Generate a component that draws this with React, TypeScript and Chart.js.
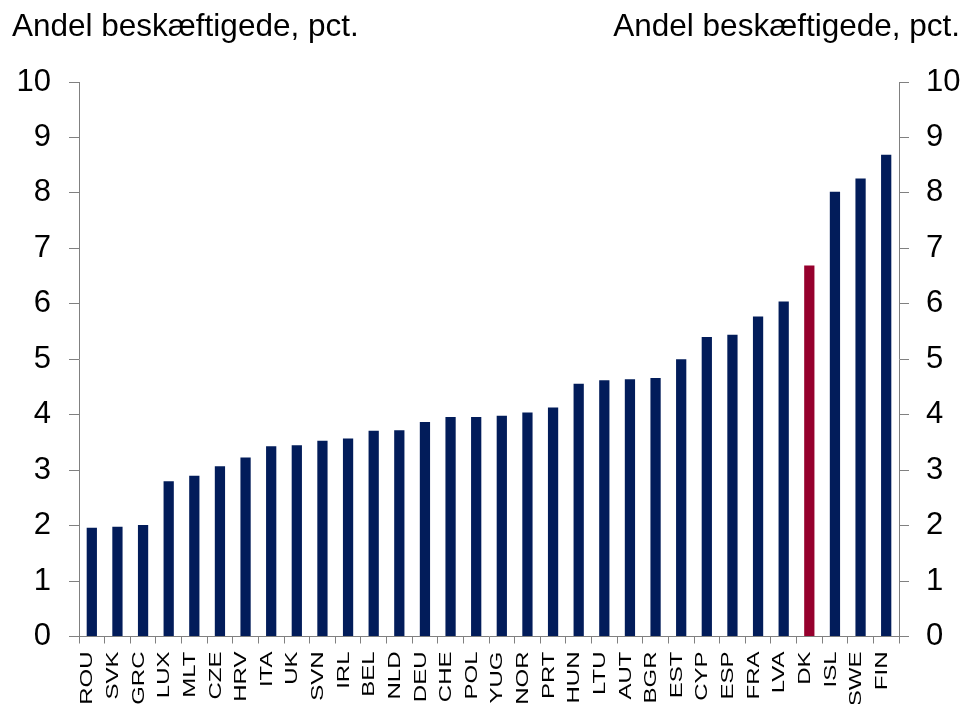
import React, { useEffect, useRef } from "react";
import { Chart, registerables } from "chart.js";

Chart.register(...registerables);

const categories = [
  "ROU", "SVK", "GRC", "LUX", "MLT", "CZE", "HRV", "ITA", "UK", "SVN", "IRL",
  "BEL", "NLD", "DEU", "CHE", "POL", "YUG", "NOR", "PRT", "HUN", "LTU", "AUT",
  "BGR", "EST", "CYP", "ESP", "FRA", "LVA", "DK", "ISL", "SWE", "FIN",
];
const values = [
  1.96, 1.98, 2.01, 2.8, 2.9, 3.07, 3.23, 3.43, 3.45, 3.53, 3.57,
  3.71, 3.72, 3.87, 3.96, 3.96, 3.98, 4.04, 4.13, 4.56, 4.62, 4.64,
  4.66, 5.0, 5.4, 5.44, 5.77, 6.04, 6.69, 8.02, 8.26, 8.69,
];
const highlighted = ["DK"];
const yTicks = [0, 1, 2, 3, 4, 5, 6, 7, 8, 9, 10];
const axisTitle = "Andel beskæftigede, pct.";

const NAVY = "#021c5a";
const RED = "#96002d";
const AXIS = "#808080";
const FONT = "'Liberation Sans', Arial, sans-serif";

const titlesPlugin = {
  id: "titles",
  afterDraw(chart: any) {
    const ctx = chart.ctx;
    ctx.save();
    ctx.fillStyle = "#000";
    ctx.font = `31.5px ${FONT}`;
    ctx.textBaseline = "alphabetic";
    ctx.textAlign = "left";
    ctx.fillText(axisTitle, 12, 36);
    ctx.textAlign = "right";
    ctx.fillText(axisTitle, 960, 36);
    ctx.restore();
  },
};

const xLabelsPlugin = {
  id: "xLabels",
  afterDraw(chart: any) {
    const ctx = chart.ctx;
    const xs = chart.scales.x;
    ctx.save();
    ctx.fillStyle = "#000";
    ctx.font = `24px ${FONT}`;
    ctx.textAlign = "right";
    ctx.textBaseline = "middle";
    categories.forEach((c, i) => {
      const x = xs.getPixelForValue(i) - 4;
      const y = xs.top + 15;
      ctx.save();
      ctx.translate(x, y);
      ctx.rotate(-Math.PI / 2);
      ctx.scale(1, 0.7);
      ctx.fillText(c, 0, 0);
      ctx.restore();
    });
    ctx.restore();
  },
};

export default function App() {
  const ref = useRef<HTMLCanvasElement | null>(null);

  useEffect(() => {
    if (!ref.current) return;
    const yCommon = (position: "left" | "right", width: number) => ({
      type: "linear" as const,
      position,
      min: 0,
      max: 10,
      afterBuildTicks: (scale: any) => {
        scale.ticks = yTicks.map((v) => ({ value: v }));
      },
      afterFit: (scale: any) => {
        scale.width = width;
      },
      grid: {
        drawOnChartArea: false,
        drawTicks: true,
        tickLength: 10,
        color: AXIS,
        lineWidth: 1,
      },
      border: { display: true, color: AXIS, width: 1 },
      ticks: {
        color: "#000",
        font: { family: FONT, size: 31 },
        padding: position === "left" ? 18 : 17,
        callback: (v: any) => String(v),
      },
    });

    const chart = new Chart(ref.current, {
      type: "bar",
      data: {
        labels: categories,
        datasets: [
          {
            data: values,
            backgroundColor: categories.map((c) =>
              highlighted.includes(c) ? RED : NAVY
            ),
            barPercentage: 0.4,
            categoryPercentage: 1,
            yAxisID: "y",
          },
        ],
      },
      options: {
        animation: false,
        responsive: false,
        maintainAspectRatio: false,
        layout: { padding: { top: 82, left: 0, right: 0, bottom: 0 } },
        plugins: {
          legend: { display: false },
          tooltip: { enabled: false },
          title: { display: false },
        },
        scales: {
          x: {
            type: "category",
            afterFit: (scale: any) => {
              scale.height = 67.5;
            },
            grid: {
              offset: true,
              drawOnChartArea: false,
              drawTicks: true,
              tickLength: 7,
              color: AXIS,
            },
            border: { display: true, color: AXIS, width: 1 },
            ticks: { display: false },
          },
          y: yCommon("left", 79),
          y2: yCommon("right", 66),
        },
      },
      plugins: [titlesPlugin, xLabelsPlugin],
    });
    return () => chart.destroy();
  }, []);

  return (
    <div style={{ position: "absolute", left: 0, top: 0, width: 965, height: 704 }}>
      <canvas ref={ref} width={965} height={704} style={{ width: 965, height: 704, display: "block" }} />
    </div>
  );
}
